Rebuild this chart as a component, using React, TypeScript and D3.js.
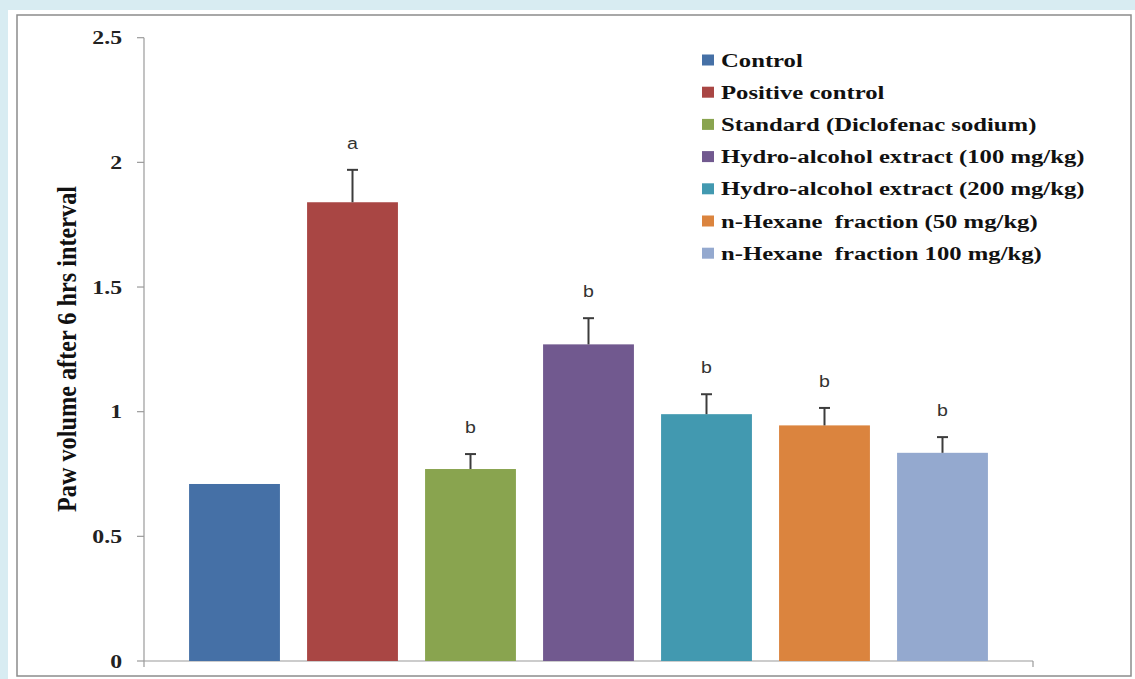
import React from "react";
import * as d3 from "d3";

const groups = [
  "Control",
  "Positive control",
  "Standard (Diclofenac sodium)",
  "Hydro-alcohol extract (100 mg/kg)",
  "Hydro-alcohol extract (200 mg/kg)",
  "n-Hexane  fraction (50 mg/kg)",
  "n-Hexane  fraction 100 mg/kg)",
];
const values = [0.71, 1.84, 0.77, 1.27, 0.99, 0.945, 0.835];
const errors = [0, 0.13, 0.06, 0.105, 0.08, 0.07, 0.063];
const letters = ["", "a", "b", "b", "b", "b", "b"];
const colors = ["#4570a6", "#a94644", "#89a44f", "#71598f", "#4299b0", "#db843e", "#94a9cf"];
const yTicks = [0, 0.5, 1, 1.5, 2, 2.5];
const yTitle = "Paw volume after 6 hrs interval";

export default function App() {
  const W = 1135, H = 679;
  const x0 = 144, x1 = 1033, yb = 661, yt = 37.7;
  const y = d3.scaleLinear().domain([0, 2.5]).range([yb, yt]);
  const x = d3.scaleBand<string>().domain(groups).range([x0, x1]).paddingInner(0.23).paddingOuter(0.382);
  const serif = "'Liberation Serif','Times New Roman',serif";
  const sans = "'Liberation Sans',Arial,sans-serif";
  return (
    <svg width={W} height={H} style={{ position: "absolute", left: 0, top: 0 }}>
      <rect x={0} y={0} width={W} height={H} fill="#d8ecf2" />
      <rect x={8} y={10} width={W - 8} height={H - 10} fill="#ffffff" />
      <rect x={17} y={15} width={1114} height={661} fill="none" stroke="#8c8c8c" strokeWidth={1.5} />
      {/* y axis */}
      <line x1={x0} x2={x0} y1={yt} y2={yb + 6} stroke="#9a9a9a" strokeWidth={1.2} />
      {yTicks.map((t) => (
        <g key={t}>
          <line x1={x0 - 7} x2={x0} y1={y(t)} y2={y(t)} stroke="#9a9a9a" strokeWidth={1.2} />
          <text
            transform={`translate(122,${y(t)}) scale(1.25,1)`}
            dy="0.35em"
            textAnchor="end"
            fontFamily={serif}
            fontWeight="bold"
            fontSize={19}
            fill="#222"
          >
            {String(t)}
          </text>
        </g>
      ))}
      {/* x axis */}
      <line x1={x0} x2={x1} y1={yb} y2={yb} stroke="#9a9a9a" strokeWidth={1.2} />
      <line x1={x1} x2={x1} y1={yb} y2={yb + 6} stroke="#9a9a9a" strokeWidth={1.2} />
      {/* bars */}
      {groups.map((g, i) => {
        const bx = x(g)!;
        const bw = x.bandwidth();
        const cx = bx + bw / 2;
        const top = y(values[i]);
        const capY = y(values[i] + errors[i]);
        return (
          <g key={g}>
            <rect x={bx} y={top} width={bw} height={yb - top} fill={colors[i]} />
            {errors[i] > 0 && (
              <g stroke="#3c3c3c" strokeWidth={2}>
                <line x1={cx} x2={cx} y1={top} y2={capY} />
                <line x1={cx - 5.5} x2={cx + 5.5} y1={capY} y2={capY} />
              </g>
            )}
            {letters[i] && (
              <text
                transform={`translate(${cx},${capY - 21}) scale(1.15,1)`}
                textAnchor="middle"
                fontFamily={sans}
                fontSize={17}
                fill="#333"
              >
                {letters[i]}
              </text>
            )}
          </g>
        );
      })}
      {/* y title */}
      <text
        transform={`translate(76,349) scale(1.3,1) rotate(-90)`}
        textAnchor="middle"
        fontFamily={serif}
        fontWeight="bold"
        fontSize={21}
        fill="#111"
        textLength={326}
        lengthAdjust="spacingAndGlyphs"
      >
        {yTitle}
      </text>
      {/* legend */}
      {groups.map((g, i) => {
        const ly = 60 + i * 32.2;
        return (
          <g key={"l" + g}>
            <rect x={702} y={ly - 5.5} width={12} height={11} fill={colors[i]} />
            <text
              transform={`translate(721,${ly}) scale(1.3,1)`}
              dy="0.35em"
              fontFamily={serif}
              fontWeight="bold"
              fontSize={19}
              fill="#111"
              style={{ whiteSpace: "pre" }}
            >
              {g}
            </text>
          </g>
        );
      })}
    </svg>
  );
}
